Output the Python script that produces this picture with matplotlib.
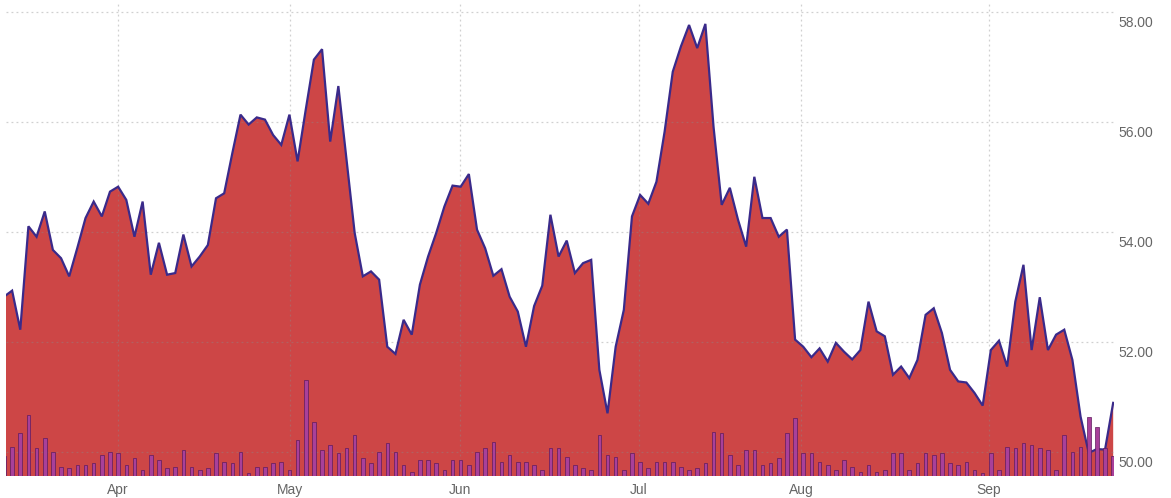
import matplotlib.pyplot as plt
import matplotlib.transforms as mtrans
import numpy as np

# daily close prices (one per trading day)
price = [52.82, 52.93, 52.22, 54.10, 53.91, 54.37, 53.67, 53.52, 53.19, 53.71,
         54.25, 54.55, 54.28, 54.73, 54.82, 54.58, 53.91, 54.55, 53.22, 53.80,
         53.22, 53.25, 53.95, 53.37, 53.55, 53.76, 54.61, 54.70, 55.43, 56.13,
         55.95, 56.08, 56.04, 55.76, 55.58, 56.13, 55.28, 56.22, 57.13, 57.32,
         55.64, 56.65, 55.31, 53.98, 53.19, 53.28, 53.13, 51.91, 51.78, 52.40,
         52.13, 53.04, 53.55, 53.98, 54.46, 54.84, 54.82, 55.05, 54.04, 53.70,
         53.20, 53.32, 52.82, 52.55, 51.91, 52.65, 53.02, 54.31, 53.55, 53.84,
         53.25, 53.43, 53.49, 51.49, 50.70, 51.91, 52.58, 54.28, 54.67, 54.51,
         54.91, 55.82, 56.91, 57.37, 57.76, 57.34, 57.78, 55.91, 54.49, 54.80,
         54.22, 53.73, 55.00, 54.25, 54.25, 53.91, 54.04, 52.04, 51.91, 51.72,
         51.88, 51.64, 51.98, 51.82, 51.68, 51.85, 52.73, 52.19, 52.10, 51.40,
         51.55, 51.34, 51.67, 52.49, 52.61, 52.16, 51.49, 51.28, 51.26, 51.07,
         50.84, 51.85, 52.02, 51.55, 52.73, 53.40, 51.85, 52.81, 51.85, 52.13,
         52.22, 51.67, 50.64, 49.98, 50.05, 50.04, 50.89]

# daily volume (millions)
volume = [2.0, 2.93, 4.27, 6.1, 2.77, 3.77, 2.43, 0.93, 0.77, 1.1,
          1.1, 1.27, 2.1, 2.43, 2.27, 1.1, 1.77, 0.6, 2.1, 1.6,
          0.77, 0.93, 2.6, 0.93, 0.6, 0.77, 2.27, 1.43, 1.27, 2.43,
          0.27, 0.93, 0.93, 1.27, 1.43, 0.6, 3.6, 9.6, 5.43, 2.6,
          3.1, 2.27, 2.77, 4.1, 1.77, 1.27, 2.43, 3.27, 2.43, 1.1,
          0.43, 1.6, 1.6, 1.27, 0.6, 1.6, 1.6, 1.1, 2.43, 2.77,
          3.43, 1.43, 2.1, 1.43, 1.43, 1.1, 0.6, 2.77, 2.77, 1.93,
          1.1, 0.77, 0.6, 4.1, 2.1, 1.93, 0.6, 2.27, 1.43, 0.77,
          1.43, 1.43, 1.43, 0.93, 0.6, 0.77, 1.27, 4.43, 4.27, 2.1,
          1.1, 2.6, 2.6, 1.1, 1.27, 1.77, 4.27, 5.77, 2.27, 2.27,
          1.43, 1.1, 0.6, 1.6, 0.93, 0.43, 1.1, 0.43, 0.6, 2.27,
          2.27, 0.6, 1.27, 2.27, 2.1, 2.27, 1.27, 1.1, 1.43, 0.6,
          0.27, 2.27, 0.6, 2.93, 2.77, 3.27, 3.1, 2.77, 2.6, 0.6,
          4.1, 2.43, 2.93, 5.93, 4.87, 2.77, 2.0]

month_labels = ['Apr', 'May', 'Jun', 'Jul', 'Aug', 'Sep']
month_pos = [13.97, 35.08, 55.91, 77.83, 97.76, 120.75]
price_ticks = [50, 52, 54, 56, 58]

x = np.arange(len(price))

fig = plt.figure(figsize=(11.71, 4.98), dpi=100)
W, H = 1171, 498
ax = fig.add_axes([6 / W, 22 / H, 1108 / W, 473 / H])

ax.fill_between(x, price, 40, color='#cd4646', lw=0, zorder=1)
ax.plot(x, price, color='#3a2a8a', lw=1.6, zorder=3, solid_joinstyle='miter')
ax.set_xlim(0.25, 136.1)
ax.set_ylim(49.56, 58.16)

# volume on its own scale at the bottom
vax = ax.twinx()
vax.bar(x, volume, width=0.44, color='#a8409a', edgecolor='#5e1a5e', lw=0.5, zorder=2)
vax.set_ylim(0, 47.3)
vax.set_xlim(0.25, 136.1)
vax.axis('off')

ax.set_yticks(price_ticks)
ax.set_yticklabels([])
ax.set_xticks(month_pos)
ax.set_xticklabels(month_labels, fontsize=10, color='#666666', family='Liberation Sans')
ax.tick_params(axis='both', length=0)
ax.tick_params(axis='x', pad=5)
ax.grid(True, linestyle=(0, (1.5, 2.5)), color='#8a8a8a', alpha=0.4, lw=0.9)
ax.set_axisbelow(False)
for s in ax.spines.values():
    s.set_visible(False)

# price labels on the right, sitting just under each gridline
trans = mtrans.blended_transform_factory(ax.transAxes, ax.transData)
trans = trans + mtrans.ScaledTranslation(4 / 100, -11 / 100, fig.dpi_scale_trans)
for p in price_ticks:
    ax.text(1.0, p, '%.2f' % p, transform=trans, ha='left', va='center',
            fontsize=10, color='#666666', family='Liberation Sans', clip_on=False)

fig.savefig('out.png', dpi=100)
